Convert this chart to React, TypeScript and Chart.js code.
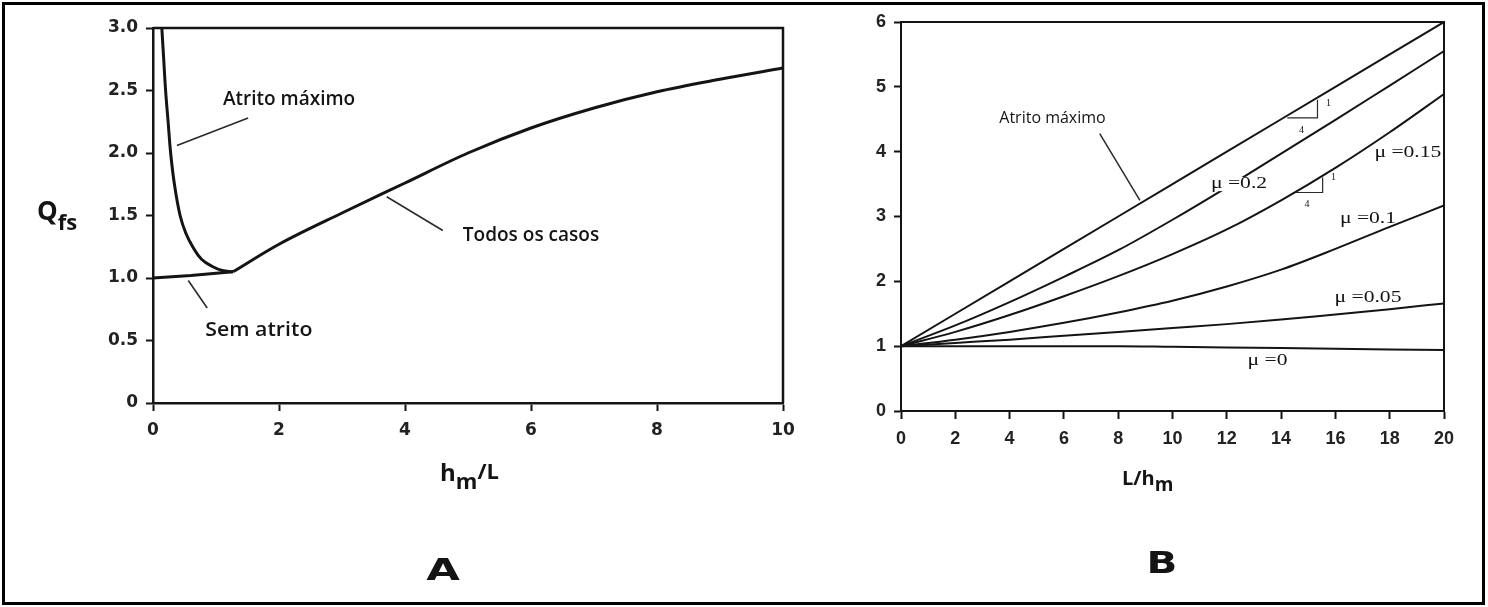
import React, { useEffect, useRef } from 'react';
import { Chart, registerables } from 'chart.js';
Chart.register(...registerables);

// ---------- Chart A data (Q_fs vs h_m/L) ----------
const aMaxFrictionX = [0.14, 0.17, 0.2, 0.24, 0.28, 0.34, 0.43, 0.52, 0.63, 0.77, 0.95, 1.1, 1.27];
const aMaxFrictionY = [3.0, 2.75, 2.5, 2.25, 2.0, 1.75, 1.5, 1.36, 1.25, 1.15, 1.09, 1.06, 1.05];
const aNoFrictionX = [0, 0.6, 1.27];
const aNoFrictionY = [1.0, 1.02, 1.05];
const aAllCasesX = [1.27, 2, 3, 4, 5, 6, 7, 8, 9, 10];
const aAllCasesY = [1.05, 1.27, 1.52, 1.76, 2.0, 2.2, 2.36, 2.49, 2.59, 2.68];
const aXTicks = ['0', '2', '4', '6', '8', '10'];
const aYTicks = ['0', '0.5', '1.0', '1.5', '2.0', '2.5', '3.0'];

// ---------- Chart B data (Q vs L/h_m) ----------
const bX = [0, 2, 4, 6, 8, 10, 12, 14, 16, 18, 20];
const bMaxFriction = [1, 1.5, 2.0, 2.5, 3.0, 3.5, 4.0, 4.5, 5.0, 5.5, 6.0];
const bMu020 = [1, 1.32, 1.68, 2.07, 2.48, 2.95, 3.45, 3.97, 4.49, 5.02, 5.55];
const bMu015 = [1, 1.22, 1.48, 1.77, 2.08, 2.42, 2.8, 3.25, 3.75, 4.3, 4.89];
const bMu010 = [1, 1.1, 1.22, 1.36, 1.52, 1.7, 1.92, 2.18, 2.5, 2.84, 3.17];
const bMu005 = [1, 1.05, 1.1, 1.16, 1.22, 1.28, 1.34, 1.41, 1.49, 1.57, 1.66];
const bMu000 = [1, 1.0, 1.0, 1.0, 1.0, 0.99, 0.98, 0.97, 0.96, 0.95, 0.94];
const bXTicks = ['0', '2', '4', '6', '8', '10', '12', '14', '16', '18', '20'];
const bYTicks = ['0', '1', '2', '3', '4', '5', '6'];

const INK = '#141414';

type Run = { text: string; font: string; dy: number };
type TextItem = {
  text?: string;
  runs?: Run[];
  x: number;
  y: number;
  data?: boolean;
  font?: string;
  sx?: number;
  align?: CanvasTextAlign;
  baseline?: CanvasTextBaseline;
  bg?: number;
};

const pts = (xs: number[], ys: number[]) => xs.map((x, i) => ({ x, y: ys[i] }));

const curve = (data: { x: number; y: number }[], width: number, smooth = 'monotone') => ({
  data,
  borderColor: INK,
  borderWidth: width,
  pointRadius: 0,
  fill: false,
  ...(smooth === 'monotone' ? { cubicInterpolationMode: 'monotone' as const } : { tension: 0.4 }),
});

const straight = (data: { x: number; y: number }[], width: number, color = '#2a2a2a') => ({
  data,
  borderColor: color,
  borderWidth: width,
  pointRadius: 0,
  fill: false,
  tension: 0,
});

const textPlugin = (items: TextItem[]) => ({
  id: 'texts',
  afterDatasetsDraw(chart: any) {
    const { ctx } = chart;
    const xs = chart.scales.x;
    const ys = chart.scales.y;
    for (const it of items) {
      const px = it.data ? xs.getPixelForValue(it.x) : it.x;
      const py = it.data ? ys.getPixelForValue(it.y) : it.y;
      ctx.save();
      ctx.translate(px, py);
      ctx.scale(it.sx || 1, 1);
      ctx.fillStyle = INK;
      if (it.runs) {
        ctx.textAlign = 'left';
        ctx.textBaseline = 'alphabetic';
        let cx = 0;
        for (const r of it.runs) {
          ctx.font = r.font;
          ctx.fillText(r.text, cx, r.dy);
          cx += ctx.measureText(r.text).width;
        }
      } else if (it.text) {
        ctx.font = it.font || '16px sans-serif';
        ctx.textAlign = it.align || 'center';
        ctx.textBaseline = it.baseline || 'middle';
        if (it.bg) {
          const w = ctx.measureText(it.text).width;
          ctx.fillStyle = '#fff';
          ctx.fillRect(-w / 2 - 3, -it.bg / 2, w + 6, it.bg);
          ctx.fillStyle = INK;
        }
        ctx.fillText(it.text, 0, 0);
      }
      ctx.restore();
    }
  },
});

const framePlugin = (width: number) => ({
  id: 'frame',
  afterDatasetsDraw(chart: any) {
    const { ctx, chartArea } = chart;
    ctx.save();
    ctx.strokeStyle = INK;
    ctx.lineWidth = width;
    ctx.beginPath();
    ctx.moveTo(chartArea.left, chartArea.top);
    ctx.lineTo(chartArea.right, chartArea.top);
    ctx.lineTo(chartArea.right, chartArea.bottom);
    ctx.stroke();
    ctx.restore();
  },
});

function axisX(min: number, max: number, step: number, labels: string[], height: number, family: string, size: number, lw: number) {
  return {
    type: 'linear' as const,
    min,
    max,
    ticks: {
      stepSize: step,
      autoSkip: false,
      maxRotation: 0,
      color: '#222',
      padding: 9,
      font: { family, size, weight: 'bold' as const },
      callback: (_v: any, i: number) => labels[i],
    },
    grid: { drawOnChartArea: false, drawTicks: true, tickLength: 8, tickColor: INK, tickWidth: 2, color: INK },
    border: { display: true, color: INK, width: lw },
    afterFit: (s: any) => {
      s.height = height;
    },
  };
}

function axisY(min: number, max: number, step: number, labels: string[], width: number, family: string, size: number, lw: number) {
  return {
    type: 'linear' as const,
    min,
    max,
    ticks: {
      stepSize: step,
      autoSkip: false,
      color: '#222',
      padding: 8,
      font: { family, size, weight: 'bold' as const },
      callback: (_v: any, i: number) => labels[i],
    },
    grid: { drawOnChartArea: false, drawTicks: true, tickLength: 7, tickColor: INK, tickWidth: 2, color: INK },
    border: { display: true, color: INK, width: lw },
    afterFit: (s: any) => {
      s.width = width;
    },
  };
}

function makeConfigA(): any {
  const items: TextItem[] = [
    { text: 'Atrito máximo', x: 2.16, y: 2.43, data: true, font: '600 19px "Open Sans"' },
    { text: 'Todos os casos', x: 6.0, y: 1.34, data: true, font: '600 19px "Open Sans"' },
    { text: 'Sem atrito', x: 1.68, y: 0.58, data: true, font: '600 19px "Open Sans"', sx: 1.12 },
    {
      x: 37,
      y: 220,
      runs: [
        { text: 'Q', font: 'bold 26px "Open Sans"', dy: 0 },
        { text: 'fs', font: 'bold 22px "Open Sans"', dy: 10 },
      ],
    },
    {
      x: 440,
      y: 481,
      runs: [
        { text: 'h', font: 'bold 24px "Open Sans"', dy: 0 },
        { text: 'm', font: 'bold 22px "Open Sans"', dy: 8 },
        { text: '/L', font: 'bold 22px "Open Sans"', dy: -2 },
      ],
    },
    { text: 'A', x: 443, y: 580, font: 'bold 31px "DejaVu Sans"', sx: 1.4, baseline: 'alphabetic' },
  ];
  return {
    type: 'line',
    data: {
      datasets: [
        curve(pts(aMaxFrictionX, aMaxFrictionY), 3, 'bezier'),
        straight(pts(aNoFrictionX, aNoFrictionY), 3, INK),
        curve(pts(aAllCasesX, aAllCasesY), 3),
        straight([{ x: 0.38, y: 2.06 }, { x: 1.51, y: 2.28 }], 1.6),
        straight([{ x: 3.71, y: 1.65 }, { x: 4.6, y: 1.38 }], 1.6),
        straight([{ x: 0.56, y: 0.98 }, { x: 0.86, y: 0.76 }], 1.6),
      ],
    },
    options: {
      responsive: false,
      maintainAspectRatio: false,
      animation: false,
      events: [],
      layout: { padding: { left: 0, top: 28, right: 37, bottom: 0 } },
      plugins: { legend: { display: false }, tooltip: { enabled: false } },
      scales: {
        x: axisX(0, 10, 2, aXTicks, 607 - 403, 'DejaVu Sans', 17, 2.5),
        y: axisY(0, 3, 0.5, aYTicks, 153, 'DejaVu Sans', 17, 2.5),
      },
    },
    plugins: [framePlugin(2.5), textPlugin(items)],
  };
}

function makeConfigB(): any {
  const mu = '\u03BC =';
  const serif = '16px "Liberation Serif"';
  const items: TextItem[] = [
    { text: 'Atrito máximo', x: 5.58, y: 4.52, data: true, font: '16px "Open Sans"' },
    { text: mu + '0.2', x: 12.45, y: 3.5, data: true, font: serif, sx: 1.35, bg: 14 },
    { text: mu + '0.15', x: 18.67, y: 3.98, data: true, font: serif, sx: 1.35 },
    { text: mu + '0.1', x: 17.2, y: 2.97, data: true, font: serif, sx: 1.35 },
    { text: mu + '0.05', x: 17.2, y: 1.74, data: true, font: serif, sx: 1.35 },
    { text: mu + '0', x: 13.5, y: 0.78, data: true, font: serif, sx: 1.35 },
    { text: '1', x: 15.75, y: 4.75, data: true, font: '10px "Liberation Serif"' },
    { text: '4', x: 14.75, y: 4.33, data: true, font: '10px "Liberation Serif"' },
    { text: '1', x: 15.93, y: 3.6, data: true, font: '10px "Liberation Serif"' },
    { text: '4', x: 14.95, y: 3.18, data: true, font: '10px "Liberation Serif"' },
    {
      x: 302,
      y: 485,
      runs: [
        { text: 'L/h', font: 'bold 20px "Open Sans"', dy: 0 },
        { text: 'm', font: 'bold 19px "Open Sans"', dy: 6 },
      ],
    },
    { text: 'B', x: 342, y: 573, font: 'bold 30px "DejaVu Sans"', sx: 1.35, baseline: 'alphabetic' },
  ];
  return {
    type: 'line',
    data: {
      datasets: [
        straight(pts(bX, bMaxFriction), 2, INK),
        curve(pts(bX, bMu020), 2),
        curve(pts(bX, bMu015), 2),
        curve(pts(bX, bMu010), 2),
        curve(pts(bX, bMu005), 2),
        curve(pts(bX, bMu000), 2),
        straight([{ x: 7.32, y: 4.28 }, { x: 8.8, y: 3.25 }], 1.5),
        straight([{ x: 14.23, y: 4.52 }, { x: 15.34, y: 4.52 }, { x: 15.34, y: 4.8 }], 1.2),
        straight([{ x: 14.45, y: 3.37 }, { x: 15.53, y: 3.37 }, { x: 15.53, y: 3.6 }], 1.2),
      ],
    },
    options: {
      responsive: false,
      maintainAspectRatio: false,
      animation: false,
      events: [],
      layout: { padding: { left: 0, top: 22, right: 44, bottom: 0 } },
      plugins: { legend: { display: false }, tooltip: { enabled: false } },
      scales: {
        x: axisX(0, 20, 2, bXTicks, 607 - 411, 'Liberation Sans', 18, 2),
        y: axisY(0, 6, 1, bYTicks, 81, 'Liberation Sans', 18, 2),
      },
    },
    plugins: [framePlugin(2), textPlugin(items)],
  };
}

export default function App() {
  const refA = useRef<HTMLCanvasElement>(null);
  const refB = useRef<HTMLCanvasElement>(null);
  useEffect(() => {
    const a = new Chart(refA.current as HTMLCanvasElement, makeConfigA());
    const b = new Chart(refB.current as HTMLCanvasElement, makeConfigB());
    return () => {
      a.destroy();
      b.destroy();
    };
  }, []);
  return (
    <div style={{ position: 'absolute', left: 0, top: 0, width: 1488, height: 607, background: '#fff', overflow: 'hidden' }}>
      <canvas ref={refA} width={820} height={607} style={{ position: 'absolute', left: 0, top: 0, width: 820, height: 607 }} />
      <canvas ref={refB} width={668} height={607} style={{ position: 'absolute', left: 820, top: 0, width: 668, height: 607 }} />
      <div
        style={{
          position: 'absolute',
          left: 2,
          top: 2,
          width: 1483,
          height: 603,
          border: '3px solid #000',
          boxSizing: 'border-box',
          pointerEvents: 'none',
        }}
      />
    </div>
  );
}
